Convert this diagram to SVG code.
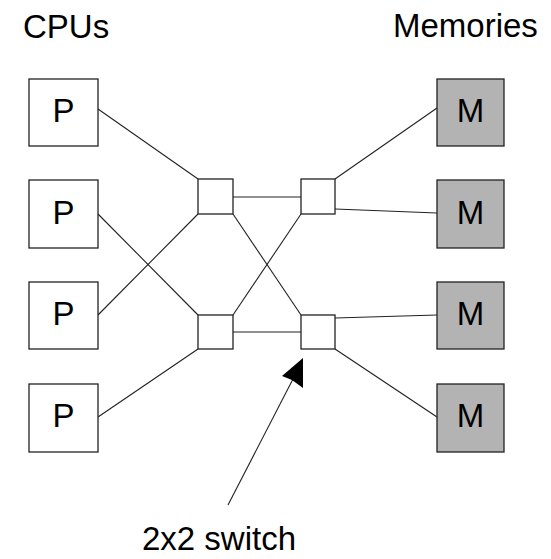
<svg xmlns="http://www.w3.org/2000/svg" width="551" height="559" viewBox="0 0 551 559">
<style>
.box{fill:#fff;stroke:#222;stroke-width:1.3}
.mem{fill:#b3b3b3;stroke:#222;stroke-width:1.3}
.sw{fill:#fff;stroke:#222;stroke-width:1.3}
.lbl{font-family:"Liberation Sans",Arial,sans-serif;font-size:33px;fill:#000}
.c{text-anchor:middle}
.ln{stroke:#222;stroke-width:1.1;fill:none}
</style>
<rect width="551" height="559" fill="#fff"/>
<text class="lbl" x="23" y="38">CPUs</text>
<text class="lbl" x="393" y="37">Memories</text>
<text class="lbl" x="142" y="550">2x2 switch</text>
<g id="connectors">
<line class="ln" x1="98" y1="109" x2="198" y2="179"/>
<line class="ln" x1="98" y1="214" x2="198" y2="315"/>
<line class="ln" x1="98" y1="315" x2="198" y2="214"/>
<line class="ln" x1="98" y1="417" x2="198" y2="349"/>
<line class="ln" x1="233" y1="197" x2="301" y2="197"/>
<line class="ln" x1="233" y1="332" x2="301" y2="332"/>
<line class="ln" x1="233" y1="214" x2="301" y2="315"/>
<line class="ln" x1="233" y1="315" x2="301" y2="214"/>
<line class="ln" x1="335" y1="179" x2="437" y2="108"/>
<line class="ln" x1="335" y1="209" x2="437" y2="213"/>
<line class="ln" x1="335" y1="318" x2="437" y2="315"/>
<line class="ln" x1="335" y1="349" x2="437" y2="417"/>
<line class="ln" x1="228" y1="505" x2="293" y2="379"/>
<polygon points="303,358 282,376 292,380 303,388" fill="#000"/>
</g>
<g id="p1"><rect class="box" x="29" y="79" width="69" height="67"/><text class="lbl c" x="63.5" y="122">P</text></g>
<g id="p2"><rect class="box" x="29" y="180" width="69" height="68"/><text class="lbl c" x="63.5" y="224">P</text></g>
<g id="p3"><rect class="box" x="29" y="282" width="69" height="67"/><text class="lbl c" x="63.5" y="325">P</text></g>
<g id="p4"><rect class="box" x="29" y="384" width="69" height="68"/><text class="lbl c" x="63.5" y="427">P</text></g>
<g id="m1"><rect class="mem" x="437" y="79" width="67" height="67"/><text class="lbl c" x="470.5" y="122">M</text></g>
<g id="m2"><rect class="mem" x="437" y="180" width="67" height="68"/><text class="lbl c" x="470.5" y="224">M</text></g>
<g id="m3"><rect class="mem" x="437" y="282" width="67" height="67"/><text class="lbl c" x="470.5" y="325">M</text></g>
<g id="m4"><rect class="mem" x="437" y="384" width="67" height="68"/><text class="lbl c" x="470.5" y="427">M</text></g>
<g id="s1"><rect class="sw" x="198" y="179" width="35" height="35"/></g>
<g id="s2"><rect class="sw" x="198" y="315" width="35" height="34"/></g>
<g id="s3"><rect class="sw" x="301" y="179" width="34" height="35"/></g>
<g id="s4"><rect class="sw" x="301" y="315" width="34" height="34"/></g>
</svg>
